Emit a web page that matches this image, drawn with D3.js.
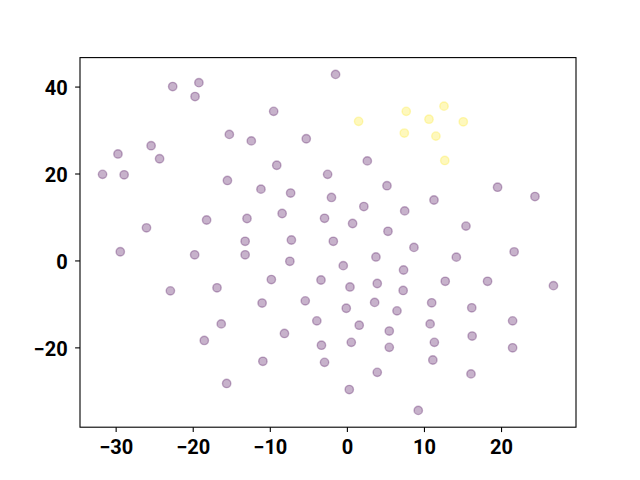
<!DOCTYPE html>
<html>
<head>
<meta charset="utf-8">
<script src="https://cdn.jsdelivr.net/npm/d3@7"></script>
<style>
  html, body { margin: 0; padding: 0; background: #fff; }
  svg { display: block; }
  .tick text { font-family: Roboto, "Liberation Sans", sans-serif; font-weight: bold; }
</style>
</head>
<body>
<svg id="chart" width="640" height="480"></svg>
<script>
// ---- data ----
const xValues = [
  -22.6, -19.2, -19.7, -15.25, -12.4, -25.4, -29.7, -24.3, -31.7, -28.9, -15.5,
  -1.47, -9.5, -5.27, -9.1, 2.65, -2.5, 5.2,
  -26.0, -18.2, -12.96, -29.4, -19.75, -13.2, -13.2, -22.9, -16.85,
  -11.15, -7.3, -2.0, 2.2, 7.5, -8.4, -2.9, 0.74, 5.33, 8.7, -7.2, -1.76, -7.4, 3.77, -0.47, 7.35,
  -9.8, -3.36, 0.4, 3.94, 7.3,
  19.55, 24.4, 11.3, 15.45, 14.2, 21.7, 12.76, 18.25, 26.8,
  -16.3, -18.5, -15.6, -11.0, -5.4, -0.08, 3.6, 6.5, -3.9, 1.6, 5.5, -8.1, -3.3, 0.57, 5.5,
  -10.9, -2.9, 3.94, 0.31, 9.26,
  11.0, 16.2, 21.5, 10.8, 16.25, 11.35, 21.5, 11.15, 16.1,
  1.52, 7.7, 7.45, 12.6, 10.65, 15.1, 11.55, 12.7
];
const yValues = [
  40.0, 40.9, 37.7, 29.0, 27.5, 26.4, 24.5, 23.4, 19.8, 19.7, 18.4,
  42.8, 34.3, 28.0, 21.9, 22.9, 19.8, 17.2,
  7.5, 9.3, 9.65, 2.0, 1.3, 4.4, 1.3, -7.0, -6.3,
  16.4, 15.5, 14.5, 12.4, 11.4, 10.8, 9.7, 8.5, 6.7, 3.0, 4.7, 4.4, -0.2, 0.8, -1.2, -2.2,
  -4.4, -4.5, -6.1, -5.3, -6.9,
  16.85, 14.7, 13.9, 7.9, 0.76, 1.98, -4.8, -4.8, -5.8,
  -14.6, -18.4, -28.3, -9.8, -9.3, -11.0, -9.65, -11.6, -13.9, -14.9, -16.25, -16.8, -19.5, -18.85, -20.0,
  -23.2, -23.45, -25.75, -29.7, -34.5,
  -9.75, -10.9, -13.9, -14.6, -17.4, -18.85, -20.1, -22.9, -26.1,
  32.0, 34.3, 29.3, 35.5, 32.5, 31.9, 28.6, 23.0
];
const labels = [
  0,0,0,0,0,0,0,0,0,0,0,
  0,0,0,0,0,0,0,
  0,0,0,0,0,0,0,0,0,
  0,0,0,0,0,0,0,0,0,0,0,0,0,0,0,0,
  0,0,0,0,0,
  0,0,0,0,0,0,0,0,0,
  0,0,0,0,0,0,0,0,0,0,0,0,0,0,0,
  0,0,0,0,0,
  0,0,0,0,0,0,0,0,0,
  1,1,1,1,1,1,1,1
];
const xTicks = [-30, -20, -10, 0, 10, 20];
const yTicks = [-20, 0, 20, 40];
const classColors = ["#440154", "#fde725"];

// ---- layout ----
const W = 640, H = 480;
const mLeft = 80, mRight = 576, mTop = 57.6, mBottom = 427.2;

function padded(vals) {
  const mn = d3.min(vals), mx = d3.max(vals), m = (mx - mn) * 0.05;
  return [mn - m, mx + m];
}
const x = d3.scaleLinear().domain(padded(xValues)).range([mLeft, mRight]);
const y = d3.scaleLinear().domain(padded(yValues)).range([mBottom, mTop]);

const svg = d3.select("#chart");
svg.append("rect").attr("width", W).attr("height", H).attr("fill", "#fff");

const pts = xValues.map((v, i) => ({ x: v, y: yValues[i], c: labels[i] }));

svg.append("g").selectAll("circle").data(pts).enter().append("circle")
  .attr("cx", d => x(d.x))
  .attr("cy", d => y(d.y))
  .attr("r", 4.2)
  .attr("fill", d => classColors[d.c])
  .attr("fill-opacity", 0.3)
  .attr("stroke", d => classColors[d.c])
  .attr("stroke-opacity", 0.3)
  .attr("stroke-width", 1.4);

// frame
svg.append("rect")
  .attr("x", mLeft).attr("y", mTop)
  .attr("width", mRight - mLeft).attr("height", mBottom - mTop)
  .attr("fill", "none").attr("stroke", "#000").attr("stroke-width", 1.1);

const fs = "20px";
const fmt = d => d3.format("")(d).replace("-", "\u2212");
const xAxis = d3.axisBottom(x).tickValues(xTicks).tickSize(4.9).tickPadding(7.7).tickFormat(fmt);
const yAxis = d3.axisLeft(y).tickValues(yTicks).tickSize(4.9).tickPadding(7.5).tickFormat(fmt);

const gx = svg.append("g").attr("transform", `translate(0,${mBottom})`).call(xAxis);
const gy = svg.append("g").attr("transform", `translate(${mLeft},0)`).call(yAxis);
[gx, gy].forEach(g => {
  g.select(".domain").remove();
  g.selectAll(".tick line").attr("stroke", "#000").attr("stroke-width", 1.1);
  g.selectAll(".tick text").attr("fill", "#000").style("font-size", fs);
});
gy.selectAll(".tick text").attr("dy", "0.42em");
</script>
</body>
</html>
